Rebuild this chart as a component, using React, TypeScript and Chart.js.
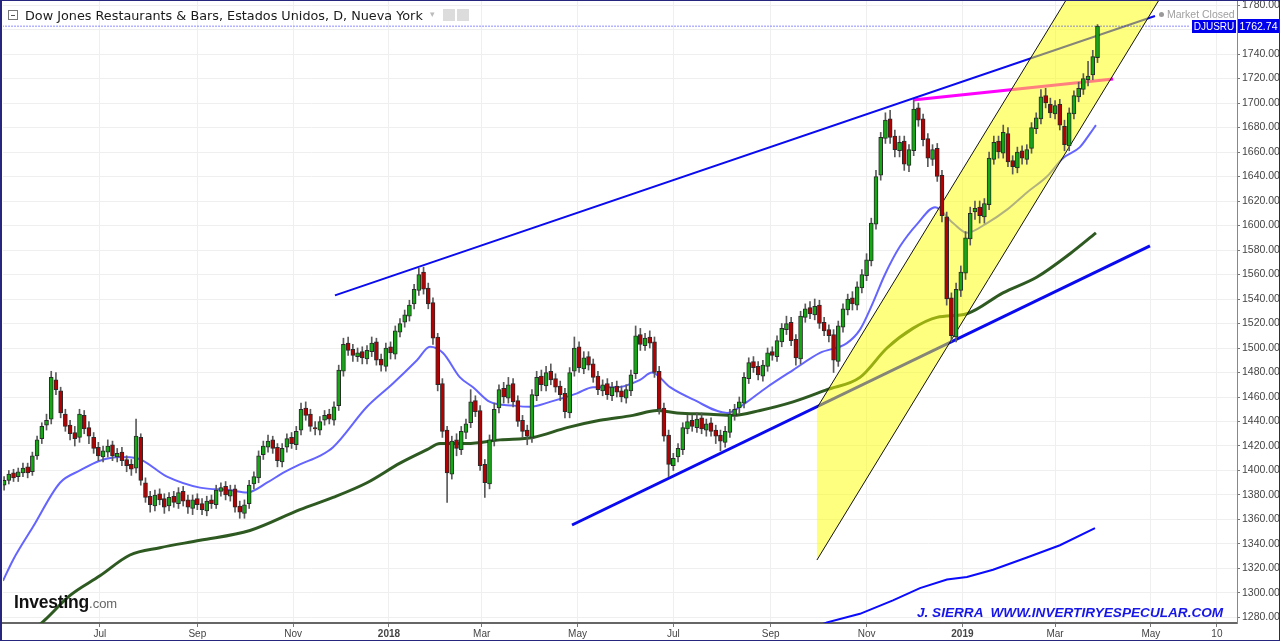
import React, { useEffect, useRef } from 'react';
import { Chart, registerables } from 'chart.js';

Chart.register(...registerables);

// ---------- axes ----------
const yTicks = [1280, 1300, 1320, 1340, 1360, 1380, 1400, 1420, 1440, 1460, 1480, 1500, 1520, 1540, 1560, 1580, 1600, 1620, 1640, 1660, 1680, 1700, 1720, 1740, 1760, 1780];
// x values are calendar days counted from 2018-01-01
const xTickDays = [-184, -122, -61, 0, 59, 120, 181, 243, 304, 365, 424, 485, 527];
const xTickLabels = ['Jul', 'Sep', 'Nov', '2018', 'Mar', 'May', 'Jul', 'Sep', 'Nov', '2019', 'Mar', 'May', '10'];

// ---------- candles (every 3 calendar days) ----------
const firstCandleDay = -245;
const candleStepDays = 3;

const opens = [
  1388, 1392, 1398, 1395, 1398, 1403, 1399, 1412, 1426, 1437,
  1442, 1474, 1465, 1446, 1437, 1431, 1427, 1445, 1435, 1427,
  1419, 1411, 1415, 1421, 1411, 1415, 1409, 1405, 1402, 1427,
  1390, 1379, 1371, 1381, 1377, 1371, 1379, 1373, 1383, 1376,
  1369, 1377, 1373, 1367, 1376, 1372, 1383, 1387, 1379, 1385,
  1371, 1365, 1373, 1389, 1394, 1413, 1419, 1425, 1419, 1407,
  1419, 1427, 1421, 1433, 1451, 1446, 1435, 1433, 1441, 1446,
  1441, 1453, 1481, 1504, 1499, 1493, 1497, 1491, 1497, 1505,
  1491, 1485, 1501, 1495, 1513, 1521, 1526, 1536, 1547, 1562,
  1549, 1537, 1509, 1471, 1433, 1397, 1425, 1417, 1431, 1439,
  1457, 1449, 1405, 1389, 1424, 1451, 1467, 1459, 1471, 1457,
  1441, 1433, 1427, 1461, 1477, 1469, 1481, 1475, 1469, 1463,
  1447, 1481, 1501, 1483, 1493, 1487, 1477, 1465, 1471, 1461,
  1469, 1465, 1459, 1465, 1479, 1511, 1502, 1509, 1505, 1481,
  1451, 1429, 1404, 1411, 1417, 1434, 1441, 1435, 1443, 1433,
  1439, 1433, 1429, 1423, 1431, 1445, 1451, 1455, 1475, 1489,
  1485, 1477, 1485, 1497, 1493, 1505, 1515, 1521, 1507, 1491,
  1525, 1533, 1527, 1535, 1521, 1515, 1511, 1489, 1517, 1531,
  1541, 1535, 1549, 1559, 1571, 1601, 1641, 1671, 1687, 1673,
  1661, 1669, 1649, 1661, 1696, 1687, 1671, 1654, 1663, 1641,
  1607, 1541, 1509, 1547, 1561, 1589, 1611, 1615, 1607, 1617,
  1654, 1669, 1659, 1675, 1653, 1647, 1661, 1654, 1663, 1679,
  1687, 1706, 1699, 1691, 1699, 1681, 1665, 1691, 1705, 1711,
  1719, 1723, 1737,
];
const highs = [
  1395, 1400, 1401, 1402, 1406, 1406, 1415, 1428, 1439, 1446,
  1481, 1480, 1468, 1450, 1441, 1436, 1450, 1449, 1440, 1431,
  1423, 1420, 1425, 1424, 1418, 1419, 1412, 1409, 1442, 1430,
  1394, 1383, 1384, 1385, 1381, 1382, 1383, 1386, 1387, 1380,
  1380, 1381, 1377, 1379, 1380, 1388, 1390, 1391, 1388, 1388,
  1375, 1376, 1392, 1399, 1416, 1424, 1429, 1428, 1422, 1422,
  1430, 1431, 1436, 1455, 1456, 1450, 1440, 1444, 1449, 1450,
  1456, 1486, 1508, 1509, 1503, 1500, 1501, 1502, 1509, 1508,
  1495, 1504, 1505, 1518, 1524, 1531, 1539, 1552, 1565, 1566,
  1553, 1541, 1512, 1475, 1436, 1428, 1430, 1436, 1442, 1466,
  1461, 1453, 1409, 1429, 1455, 1470, 1472, 1476, 1475, 1461,
  1445, 1437, 1466, 1481, 1482, 1485, 1487, 1479, 1473, 1467,
  1484, 1509, 1505, 1497, 1497, 1491, 1481, 1474, 1475, 1472,
  1473, 1469, 1470, 1482, 1518, 1516, 1512, 1514, 1509, 1485,
  1455, 1433, 1414, 1422, 1439, 1445, 1445, 1447, 1447, 1442,
  1443, 1437, 1433, 1436, 1450, 1454, 1460, 1480, 1492, 1493,
  1489, 1490, 1500, 1501, 1510, 1520, 1526, 1525, 1511, 1530,
  1536, 1538, 1540, 1539, 1525, 1519, 1515, 1522, 1536, 1544,
  1546, 1554, 1564, 1577, 1606, 1645, 1676, 1692, 1694, 1678,
  1673, 1673, 1666, 1702, 1700, 1691, 1675, 1666, 1667, 1645,
  1611, 1545, 1553, 1567, 1595, 1615, 1620, 1620, 1622, 1660,
  1673, 1673, 1682, 1680, 1657, 1664, 1665, 1666, 1684, 1692,
  1711, 1712, 1704, 1702, 1703, 1686, 1696, 1710, 1717, 1724,
  1734, 1743, 1764,
];
const lows = [
  1384, 1389, 1391, 1391, 1395, 1394, 1396, 1409, 1422, 1433,
  1438, 1462, 1443, 1432, 1425, 1420, 1423, 1430, 1422, 1414,
  1408, 1407, 1411, 1408, 1407, 1404, 1399, 1396, 1398, 1388,
  1374, 1366, 1367, 1372, 1365, 1367, 1370, 1369, 1371, 1365,
  1364, 1368, 1364, 1363, 1369, 1369, 1379, 1376, 1375, 1366,
  1361, 1361, 1369, 1385, 1390, 1409, 1415, 1414, 1403, 1403,
  1415, 1418, 1417, 1429, 1441, 1432, 1429, 1429, 1437, 1438,
  1437, 1449, 1477, 1494, 1489, 1489, 1487, 1487, 1493, 1486,
  1481, 1481, 1491, 1491, 1509, 1517, 1522, 1532, 1543, 1544,
  1532, 1503, 1465, 1427, 1374, 1393, 1412, 1413, 1426, 1435,
  1444, 1400, 1378, 1385, 1420, 1447, 1455, 1455, 1452, 1436,
  1427, 1421, 1423, 1457, 1465, 1465, 1470, 1464, 1457, 1443,
  1443, 1477, 1480, 1479, 1482, 1472, 1462, 1461, 1458, 1457,
  1460, 1456, 1455, 1461, 1475, 1498, 1498, 1500, 1476, 1446,
  1424, 1395, 1400, 1407, 1413, 1430, 1432, 1431, 1430, 1428,
  1428, 1422, 1416, 1419, 1427, 1441, 1447, 1451, 1471, 1480,
  1474, 1473, 1481, 1490, 1489, 1501, 1511, 1502, 1486, 1487,
  1521, 1524, 1523, 1516, 1510, 1505, 1480, 1485, 1513, 1527,
  1531, 1531, 1545, 1555, 1567, 1597, 1637, 1667, 1667, 1656,
  1656, 1645, 1644, 1657, 1681, 1665, 1648, 1649, 1636, 1603,
  1535, 1505, 1505, 1542, 1556, 1584, 1605, 1602, 1602, 1613,
  1650, 1655, 1655, 1648, 1642, 1643, 1650, 1650, 1659, 1675,
  1683, 1696, 1688, 1687, 1678, 1661, 1661, 1687, 1701, 1707,
  1714, 1719, 1733,
];
const closes = [
  1392, 1397, 1394, 1399, 1402, 1398, 1412, 1425, 1436, 1441,
  1476, 1466, 1447, 1436, 1430, 1426, 1446, 1434, 1428, 1418,
  1412, 1416, 1420, 1412, 1414, 1408, 1404, 1401, 1428, 1392,
  1378, 1372, 1380, 1376, 1370, 1378, 1374, 1382, 1375, 1370,
  1376, 1372, 1368, 1375, 1373, 1384, 1386, 1380, 1384, 1370,
  1366, 1372, 1388, 1395, 1412, 1420, 1424, 1418, 1408, 1418,
  1426, 1422, 1432, 1450, 1445, 1436, 1434, 1440, 1445, 1442,
  1452, 1482, 1503, 1498, 1494, 1496, 1492, 1498, 1504, 1490,
  1486, 1500, 1496, 1514, 1520, 1527, 1535, 1548, 1560, 1548,
  1536, 1508, 1470, 1432, 1398, 1424, 1418, 1432, 1438, 1456,
  1448, 1404, 1390, 1425, 1450, 1466, 1460, 1470, 1456, 1440,
  1432, 1428, 1462, 1476, 1470, 1480, 1474, 1468, 1462, 1448,
  1480, 1500, 1484, 1492, 1486, 1476, 1466, 1470, 1462, 1468,
  1464, 1460, 1466, 1478, 1510, 1503, 1508, 1504, 1480, 1450,
  1428, 1405, 1410, 1418, 1435, 1440, 1436, 1442, 1434, 1438,
  1432, 1428, 1424, 1432, 1446, 1450, 1456, 1476, 1488, 1484,
  1478, 1486, 1496, 1494, 1506, 1516, 1520, 1506, 1492, 1526,
  1532, 1528, 1534, 1520, 1514, 1510, 1490, 1518, 1532, 1540,
  1536, 1550, 1560, 1572, 1602, 1640, 1672, 1686, 1672, 1662,
  1668, 1650, 1662, 1695, 1686, 1670, 1655, 1662, 1640, 1608,
  1540, 1510, 1548, 1562, 1590, 1610, 1614, 1608, 1618, 1655,
  1668, 1660, 1676, 1652, 1648, 1660, 1655, 1662, 1680, 1688,
  1705, 1700, 1692, 1698, 1682, 1666, 1692, 1706, 1712, 1720,
  1722, 1738, 1762.74,
];

// ---------- moving averages ----------
const maFastDays = [-245.7, -239.3, -226.6, -209.4, -196.7, -184, -171.2, -160.4, -141.3, -120.3, -101.2, -90.4, -77.7, -67.5, -56.7, -44, -35.6, -14, 2.5, 17.8, 26.1, 34.4, 45.2, 53.5, 64.3, 78.9, 89.8, 102.5, 119.7, 129.9, 145.1, 159.8, 167.4, 178.9, 193.5, 215.2, 223.4, 240.6, 257.2, 274.3, 291.5, 299.8, 307.4, 315.7, 325.3, 336.7, 347.6, 359, 367.9, 380.7, 393.4, 406.1, 418.8, 429, 439.8, 446.2, 450];
const maFastValues = [1310, 1327, 1354, 1390, 1400, 1408, 1411, 1410, 1395, 1386, 1384, 1382, 1390, 1398, 1405, 1412, 1419, 1452, 1471, 1490, 1501, 1496, 1476, 1468, 1456, 1453, 1452, 1456, 1463, 1468, 1468, 1474, 1480, 1468, 1458, 1447, 1452, 1468, 1482, 1496, 1504, 1515, 1535, 1560, 1583, 1602, 1615, 1602, 1594, 1602, 1613, 1627, 1640, 1655, 1664, 1675, 1682];

const maSlowDays = [-228, -219, -203, -184, -164.9, -145.8, -120.3, -88.5, -56.7, -35.6, -14, 7, 24.2, 32.5, 49.6, 70.7, 91.7, 113.3, 134.3, 155.3, 170.6, 183.3, 204.3, 219, 236.2, 257.2, 278.8, 299.8, 317, 333.5, 348.8, 367.9, 390.8, 412.5, 433.5, 450];
const maSlowValues = [1268, 1278, 1298, 1314, 1331, 1337, 1343, 1351, 1368, 1378, 1390, 1406, 1417, 1422, 1422, 1425, 1427, 1435, 1441, 1445, 1449, 1447, 1446, 1445, 1449, 1456, 1466, 1476, 1500, 1516, 1525, 1528, 1545, 1558, 1577, 1594];

const lowerBandDays = [269.3, 278.8, 299.8, 320.8, 338, 355.2, 367.9, 384.5, 406.1, 427.1, 449.4];
const lowerBandValues = [1271, 1276, 1283, 1294, 1304, 1311, 1313, 1319, 1329, 1339, 1353];

// ---------- drawn studies ----------
const upperTrendDays = [-34.4, 487.6];
const upperTrendValues = [1543, 1771];
const lowerTrendDays = [116.5, 484.4];
const lowerTrendValues = [1355.5, 1583.3];
const pinkLineDays = [333.5, 460.9];
const pinkLineValues = [1702.4, 1719.6];
const channelDays = [272.4, 438.6, 497.7, 272.4];
const channelValues = [1451, 1800, 1800, 1326.9];
const channelLeftDays = [272.4, 438.6];
const channelLeftValues = [1451, 1800];
const channelRightDays = [272.4, 497.7];
const channelRightValues = [1326.9, 1800];
const lastPrice = 1762.74;
const priceLineDays = [-246, 510];

const UP = '#14a814';
const DOWN = '#b40000';
const NARROW = "'Liberation Sans Narrow','Arial Narrow','Liberation Sans',Arial,sans-serif";

function pts(days: number[], vals: number[]) {
  return days.map((d, i) => ({ x: d, y: vals[i] }));
}

function lineDs(label: string, days: number[], vals: number[], color: string, width: number, order: number, extra: any = {}) {
  return {
    type: 'line',
    label,
    data: pts(days, vals),
    borderColor: color,
    borderWidth: width,
    pointRadius: 0,
    fill: false,
    order,
    ...extra,
  };
}

export default function App() {
  const ref = useRef<HTMLCanvasElement>(null);

  useEffect(() => {
    const candleDays = closes.map((_, i) => firstCandleDay + i * candleStepDays);
    const wickData = candleDays.map((d, i) => ({ x: d, y: [lows[i], highs[i]] }));
    const bodyData = candleDays.map((d, i) => ({
      x: d,
      y: [Math.min(opens[i], closes[i]), Math.max(opens[i], closes[i])],
    }));
    const bodyColors = closes.map((c, i) => (c >= opens[i] ? UP : DOWN));

    const chart = new Chart(ref.current as HTMLCanvasElement, {
      type: 'bar',
      data: {
        datasets: [
          lineDs('MA slow', maSlowDays, maSlowValues, '#2e5a22', 3, 10, { cubicInterpolationMode: 'monotone' }),
          lineDs('MA fast', maFastDays, maFastValues, '#6464ff', 2, 10, { cubicInterpolationMode: 'monotone' }),
          lineDs('Lower band', lowerBandDays, lowerBandValues, '#0a0aff', 2, 10),
          lineDs('Upper trend', upperTrendDays, upperTrendValues, '#0a0af0', 2, 10),
          lineDs('Lower trend', lowerTrendDays, lowerTrendValues, '#0a0af0', 3, 10),
          lineDs('Pink', pinkLineDays, pinkLineValues, '#ff00ff', 3, 10),
          lineDs('Channel', channelDays, channelValues, 'rgba(0,0,0,0)', 0, 6, {
            fill: 'shape',
            backgroundColor: 'rgba(255,255,0,0.5)',
          }),
          lineDs('Channel left', channelLeftDays, channelLeftValues, '#111', 1, 5),
          lineDs('Channel right', channelRightDays, channelRightValues, '#111', 1, 5),
          lineDs('Price', priceLineDays, [lastPrice, lastPrice], '#1a1aff', 1, 4, { borderDash: [1, 2] }),
          {
            type: 'bar',
            label: 'wick',
            data: wickData,
            backgroundColor: '#5a5a5a',
            barThickness: 1,
            grouped: false,
            order: 2,
          },
          {
            type: 'bar',
            label: 'body',
            data: bodyData,
            backgroundColor: bodyColors,
            borderColor: '#2a2a2a',
            borderWidth: 1,
            borderSkipped: false,
            barThickness: 4,
            minBarLength: 1,
            grouped: false,
            order: 1,
          },
        ] as any,
      },
      options: {
        responsive: false,
        animation: false,
        events: [],
        layout: { padding: { left: 3, top: 0, right: 0, bottom: 0 } },
        plugins: { legend: { display: false }, tooltip: { enabled: false } },
        scales: {
          x: {
            type: 'linear',
            min: -245.7,
            max: 539.8,
            offset: false,
            afterBuildTicks: (s: any) => {
              s.ticks = xTickDays.map((v) => ({ value: v }));
            },
            afterFit: (s: any) => {
              s.height = 18;
              s.paddingLeft = 0;
              s.paddingRight = 0;
            },
            ticks: {
              autoSkip: false,
              maxRotation: 0,
              padding: 1,
              color: '#444',
              callback: (_v: any, i: number) => xTickLabels[i],
              font: (ctx: any) => ({
                family: NARROW,
                size: 10,
                weight: /^\d{4}$/.test(xTickLabels[ctx.index] || '') ? 'bold' : 'normal',
              }),
            },
            grid: { offset: false, color: '#efefef', tickLength: 4, tickColor: '#777' },
            border: { color: '#666', width: 2 },
          },
          y: {
            type: 'linear',
            position: 'right',
            min: 1275.5,
            max: 1784.1,
            afterBuildTicks: (s: any) => {
              s.ticks = yTicks.map((v) => ({ value: v }));
            },
            afterFit: (s: any) => {
              s.width = 43;
              s.paddingTop = 0;
              s.paddingBottom = 0;
            },
            ticks: {
              padding: 2,
              color: '#444',
              font: { family: NARROW, size: 10.5 },
              callback: (v: any) => Number(v).toFixed(2),
            },
            grid: { color: '#efefef', tickLength: 3, tickColor: '#777' },
            border: { color: '#888', width: 1 },
          },
        },
      } as any,
    });
    return () => chart.destroy();
  }, []);

  const abs = (s: React.CSSProperties): React.CSSProperties => ({ position: 'absolute', whiteSpace: 'pre', ...s });

  return (
    <div style={{ position: 'fixed', left: 0, top: 0, width: 1280, height: 641, background: '#fff', overflow: 'hidden' }}>
      <canvas ref={ref} width={1280} height={641} style={{ position: 'absolute', left: 0, top: 0 }} />
      {/* title bar */}
      <div style={abs({ left: 8, top: 10, width: 8, height: 8, border: '1px solid #777', background: '#fff' })}>
        <div style={abs({ left: 2, top: 3.5, width: 4, height: 1, background: '#555' })} />
      </div>
      <div style={abs({ left: 25, top: 8, lineHeight: '16px', fontFamily: "'DejaVu Sans', Verdana, sans-serif", fontSize: 12.8, color: '#1a1a1a' })}>
        Dow Jones Restaurants &amp; Bars, Estados Unidos, D, Nueva York
      </div>
      <div style={abs({ left: 430, top: 9, fontFamily: "'DejaVu Sans', sans-serif", fontSize: 9, color: '#bbb' })}>▾</div>
      <div style={abs({ left: 443, top: 9, width: 12, height: 12, background: '#dcdcdc' })} />
      <div style={abs({ left: 457, top: 9, width: 12, height: 12, background: '#dcdcdc' })} />
      {/* market status */}
      <div style={abs({ left: 1159, top: 12, width: 5, height: 5, borderRadius: 3, background: '#999' })} />
      <div style={abs({ left: 1167, top: 8, lineHeight: '12px', fontFamily: 'Arial, sans-serif', fontSize: 10.5, color: '#a0a0a0' })}>Market Closed</div>
      {/* price labels */}
      <div style={abs({ left: 1192, top: 20, width: 44, height: 13, background: '#0000ee', color: '#fff', fontFamily: 'Arial, sans-serif', fontSize: 10, lineHeight: '13px', textAlign: 'center' })}>DJUSRU</div>
      <div style={abs({ left: 1238, top: 19, width: 41, height: 14, background: '#0000ee', color: '#fff', fontFamily: NARROW, fontSize: 10.5, lineHeight: '14px', textAlign: 'center' })}>1762.74</div>
      {/* logo */}
      <div style={abs({ left: 14, top: 592, lineHeight: '20px', fontFamily: "'Liberation Sans', Arial, sans-serif", color: '#111' })}>
        <span style={{ fontSize: 17.5, fontWeight: 'bold', letterSpacing: -0.2 }}>Investing</span>
        <span style={{ fontSize: 13, color: '#666' }}>.com</span>
      </div>
      {/* watermark */}
      <div style={abs({ left: 917, top: 604, lineHeight: '17px', fontFamily: "'Liberation Sans', Arial, sans-serif", fontSize: 13.6, fontWeight: 'bold', fontStyle: 'italic', color: '#1616e8' })}>
        {'J. SIERRA  WWW.INVERTIRYESPECULAR.COM'}
      </div>
      {/* frame */}
      <div style={abs({ left: 0, top: 0, width: 1280, height: 641, boxSizing: 'border-box', border: '1px solid #26267e', borderLeftWidth: 2, pointerEvents: 'none' })} />
    </div>
  );
}
